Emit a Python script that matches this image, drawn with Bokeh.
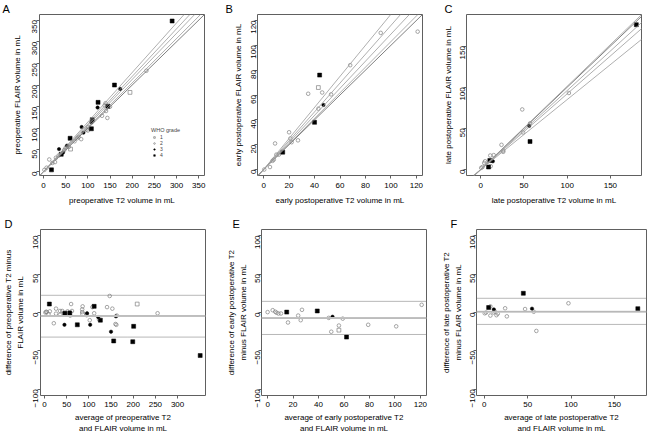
import math
from bokeh.plotting import figure
from bokeh.models import Slope, Span, Legend, LegendItem, Range1d, FixedTicker
from bokeh.layouts import row, column
from bokeh.embed import file_html
from bokeh.resources import INLINE

FONT = "Liberation Sans"
FS = "8px"

# ---------------- data ----------------
# Panel A: preoperative T2 vs FLAIR (mL) and WHO grade
pre_t2 = [290, 232, 160, 173, 195, 123, 122, 140, 145, 138, 141, 132, 144, 110, 108, 86, 108, 101, 97, 90,
          79, 85, 76, 60, 53, 61, 50, 35, 44, 40, 34, 28, 13, 26, 7, 2, 18, 100, 57, 47, 20, 150, 70]
pre_flair = [348, 233, 200, 191, 183, 160, 148, 158, 151, 153, 140, 129, 124, 120, 114, 103, 99, 103, 97, 90,
             80, 75, 77, 77, 60, 52, 55, 52, 44, 40, 37, 32, 28, 22, 9, 4, 4, 95, 57, 50, 20, 150, 70]
pre_grade = [4, 2, 4, 3, 1, 4, 3, 2, 4, 2, 2, 2, 2, 4, 3, 3, 4, 2, 2, 3,
             2, 2, 2, 4, 3, 1, 2, 3, 3, 4, 2, 2, 2, 2, 2, 2, 4, 2, 2, 2, 2, 2, 2]

# Panel B: early postoperative
early_t2 = [121, 92, 68, 44, 43, 46, 35, 53, 47, 43, 40, 20, 27, 21, 9, 15, 10, 8, 7, 5, 0.5, 12, 22]
early_flair = [111, 110, 84, 76, 66, 62, 61, 60.5, 52, 49, 38, 30, 23.5, 25, 21, 14, 12, 8, 7, 2, 0, 12, 22]
early_grade = [2, 2, 2, 4, 1, 2, 2, 2, 3, 2, 4, 2, 2, 2, 2, 4, 2, 2, 2, 2, 2, 2, 2]

# Panel C: late postoperative
late_t2 = [180, 102, 48, 56, 57, 49, 57, 24, 26, 26, 11, 15, 14, 10.5, 11.5, 9, 5, 4, 0.5, 2]
late_flair = [176, 93, 73, 53, 34, 45, 56, 30, 21.5, 23, 17, 17.5, 10, 11, 4, 3, 10, 8, 2, 3]
late_grade = [4, 2, 2, 3, 4, 2, 2, 2, 2, 2, 2, 2, 3, 4, 2, 4, 2, 2, 2, 2]

# Panel D: Bland-Altman preoperative (average, difference)
pre_avg = [11, 2, 5, 9, 12, 4, 26, 26, 21, 35, 40, 35, 44, 46, 45, 52, 57, 60, 62, 58, 74, 86, 85, 85, 86,
           96, 95, 103, 102, 108, 112, 112, 121, 126, 123, 141, 147, 153, 150, 156, 161, 163, 160, 162,
           201, 199, 209, 255, 351]
pre_diff = [11, 0, 0.5, -2, 1.5, 1, 5, -1.5, -14, 2, 2, -3, -1, -1, -16, 1.5, -0.5, 11, 2, -4, -16, 8, 4, 0.5, -2,
            -1, -3.5, -16, -10, 7, 8, -1, -6, -10, -9, 7, 21.5, 5, -25, -37, -5, -4, -15, -16,
            -18, -38, 11, -1, -56]
pre_ba_grade = [4, 2, 2, 2, 2, 2, 2, 2, 2, 2, 2, 2, 2, 4, 3, 2, 4, 2, 2, 2, 4, 2, 2, 2, 1,
                3, 2, 3, 2, 2, 4, 2, 3, 4, 2, 2, 2, 2, 3, 4, 3, 2, 2, 2,
                4, 4, 1, 2, 4]
pre_ba_lines = [22.4, -4.5, -32]   # upper limit, mean, lower limit

# Panel E: Bland-Altman early postoperative
early_avg = [0, 4, 6, 7, 8.5, 10.5, 15, 16, 24, 27, 26, 39, 48, 51, 59, 56, 56, 50, 62, 79, 101, 121]
early_diff = [0.5, 3, 1, -0.3, -1.3, -1.3, 0.5, -13, -4, 3.5, -10, 2, -7, -5.5, -8, -17, -23, -25, -32, -16, -18, 10]
early_ba_grade = [2, 2, 2, 2, 2, 2, 4, 2, 2, 2, 2, 4, 2, 3, 2, 2, 1, 2, 4, 2, 2, 2]
early_ba_lines = [14.5, -7.3, -28.6]

# Panel F: Bland-Altman late postoperative
late_avg = [0.5, 2, 5, 7, 7, 11, 10.5, 12, 14, 15.5, 24, 26, 45, 47, 55, 57, 60, 97, 177]
late_diff = [-1, 0, 6.5, 8, -4, 4, 0, 1.5, -3.5, -1.5, 5.5, -5, 25, 4.5, 5, 1, -24, 12, 5]
late_ba_grade = [2, 2, 4, 2, 2, 3, 2, 2, 2, 2, 2, 2, 4, 2, 3, 2, 2, 2, 4]
late_ba_lines = [18.5, 1.0, -15.5]

# regression / identity line slopes (through origin)
pre_slopes = [1.0, 1.025, 1.065, 1.10, 1.145]
early_slopes = [1.0, 1.03, 1.09, 1.16, 1.25]
late_slopes = [1.0, 1.012, 0.96, 0.92, 0.85]

grades = [1, 2, 3, 4]

GRADE_STYLE = {
    1: dict(marker="square", size=3.8, fill_color=None, line_color="#808080", line_width=0.7),
    2: dict(marker="circle", size=3.6, fill_color=None, line_color="#808080", line_width=0.7),
    3: dict(marker="circle", size=3.4, fill_color="black", line_color="black", line_width=0.5),
    4: dict(marker="square", size=4.0, fill_color="black", line_color="black", line_width=0.5),
}


def make_fig(xr, yr, xt, yt, xlabel, ylabel, letter, L, FW, R, T, FH, B,
             ldx, ylab_st=2, ytitle_st=4, xlab_st=4, xtitle_st=5):
    p = figure(frame_width=FW, frame_height=FH, min_border_left=L, min_border_right=R,
               min_border_top=T, min_border_bottom=B,
               x_range=Range1d(*xr), y_range=Range1d(*yr),
               output_backend="svg", toolbar_location=None)
    p.grid.visible = False
    p.outline_line_color = "#606060"
    p.outline_line_width = 1
    p.background_fill_color = "white"
    p.border_fill_color = "white"
    p.xaxis.ticker = FixedTicker(ticks=xt)
    p.yaxis.ticker = FixedTicker(ticks=yt)
    for ax in (p.xaxis[0], p.yaxis[0]):
        ax.axis_line_color = None
        ax.major_tick_line_color = "#606060"
        ax.major_tick_out = 3
        ax.major_tick_in = 0
        ax.minor_tick_line_color = None
        ax.major_label_text_font = FONT
        ax.major_label_text_font_size = FS
        ax.major_label_text_color = "black"
        ax.axis_label_text_font = FONT
        ax.axis_label_text_font_size = FS
        ax.axis_label_text_font_style = "normal"
        ax.axis_label_text_color = "black"
        ax.axis_label_text_line_height = 1.3
    p.xaxis.axis_label = xlabel
    p.yaxis.axis_label = ylabel
    p.yaxis.major_label_orientation = math.pi / 2
    p.yaxis.major_label_standoff = ylab_st
    p.yaxis.axis_label_standoff = ytitle_st
    p.xaxis.major_label_standoff = xlab_st
    p.xaxis.axis_label_standoff = xtitle_st
    # panel letter as the figure title, pulled to the left of the frame
    p.title.text = letter
    p.title.align = "left"
    p.title.offset = ldx
    p.title.standoff = 0
    p.title.text_font = FONT
    p.title.text_font_size = "11px"
    p.title.text_font_style = "normal"
    p.title.text_color = "black"
    return p


def add_points(p, xs, ys, gs):
    rends = {}
    for g in grades:
        gx = [x for x, k in zip(xs, gs) if k == g]
        gy = [y for y, k in zip(ys, gs) if k == g]
        rends[g] = p.scatter(gx, gy, **GRADE_STYLE[g])
    return rends


def add_slopes(p, slopes):
    for i, b in enumerate(slopes):
        p.add_layout(Slope(gradient=b, y_intercept=0,
                           line_color="#707070" if i == 0 else "#9a9a9a",
                           line_width=0.9 if i == 0 else 0.8))


def add_ba(p, lines):
    up, mean, lo = lines
    p.add_layout(Span(location=mean, dimension="width", line_color="#cccccc", line_width=2))
    p.add_layout(Span(location=mean, dimension="width", line_color="#999999", line_width=1, line_dash="1 1"))
    for v in (up, lo):
        p.add_layout(Span(location=v, dimension="width", line_color="#707070", line_width=1, line_dash="1 1"))


ba_ticks = [-100, -50, 0, 50, 100]
T1, FH1, B1 = 13, 161, 40
T2, FH2, B2 = 13, 166, 39

# ---- A ----
pA = make_fig((-9, 363), (-9, 363), [0, 50, 100, 150, 200, 250, 300, 350], [0, 50, 100, 150, 200, 250, 300, 350],
              "preoperative T2 volume in mL", "preoperative FLAIR volume in mL", "A",
              39, 165, 18, T1, FH1, B1, -37, ylab_st=2, ytitle_st=5)
add_slopes(pA, pre_slopes)
rA = add_points(pA, pre_t2, pre_flair, pre_grade)
leg = Legend(items=[LegendItem(label=str(g), renderers=[rA[g]]) for g in grades],
             title="WHO grade", location=(112, 17))
leg.title_text_font = FONT
leg.title_text_font_size = "5.5px"
leg.title_text_font_style = "normal"
leg.title_standoff = 1
leg.label_text_font = FONT
leg.label_text_font_size = "5px"
leg.label_height = 4
leg.label_width = 4
leg.glyph_height = 4
leg.glyph_width = 6
leg.spacing = 0
leg.padding = 1
leg.margin = 0
leg.label_standoff = 3
leg.border_line_color = None
leg.background_fill_alpha = 0
pA.add_layout(leg)

# ---- B ----
pB = make_fig((-4.8, 124.8), (-4.8, 124.8), [0, 20, 40, 60, 80, 100, 120], [0, 20, 40, 60, 80, 100, 120],
              "early postoperative T2 volume in mL", "early postoperative FLAIR volume in mL", "B",
              35, 165, 12, T1, FH1, B1, -32, ylab_st=1, ytitle_st=3)
add_slopes(pB, early_slopes)
add_points(pB, early_t2, early_flair, early_grade)

# ---- C ----
pC = make_fig((-16.5, 186), (-7.3, 188.4), [0, 50, 100, 150], [0, 50, 100, 150],
              "late postoperative T2 volume in mL", "late postoperative FLAIR volume in mL", "C",
              32, 175, 1, T1, FH1, B1, -22, ylab_st=1, ytitle_st=2)
add_slopes(pC, late_slopes)
add_points(pC, late_t2, late_flair, late_grade)

# ---- D ----
pD = make_fig((-9, 363), (-108, 108), [0, 50, 100, 150, 200, 250, 300], ba_ticks,
              "average of preoperative T2\nand FLAIR volume in mL",
              "difference of preoperative T2 minus\nFLAIR volume in mL", "D",
              39, 165, 18, T2, FH2, B2, -36, ylab_st=2, ytitle_st=3, xlab_st=3, xtitle_st=3)
add_ba(pD, pre_ba_lines)
add_points(pD, pre_avg, pre_diff, pre_ba_grade)

# ---- E ----
pE = make_fig((-4.8, 124.8), (-108, 108), [0, 20, 40, 60, 80, 100, 120], ba_ticks,
              "average of early postoperative T2\nand FLAIR volume in mL",
              "difference of early postoperative T2\nminus FLAIR volume in mL", "E",
              35, 165, 12, T2, FH2, B2, -29, ylab_st=1, ytitle_st=2, xlab_st=3, xtitle_st=3)
add_ba(pE, early_ba_lines)
add_points(pE, early_avg, early_diff, early_ba_grade)

# ---- F ----
pF = make_fig((-9, 187), (-108, 108), [0, 50, 100, 150], ba_ticks,
              "average of late postoperative T2\nand FLAIR volume in mL",
              "difference of late postoperative T2\nminus FLAIR volume in mL", "F",
              37, 170, 1, T2, FH2, B2, -26, ylab_st=1, ytitle_st=2, xlab_st=3, xtitle_st=3)
add_ba(pF, late_ba_lines)
add_points(pF, late_avg, late_diff, late_ba_grade)

layout = column(row(pA, pB, pC), row(pD, pE, pF))

open("out.html", "w").write(file_html(layout, INLINE))
